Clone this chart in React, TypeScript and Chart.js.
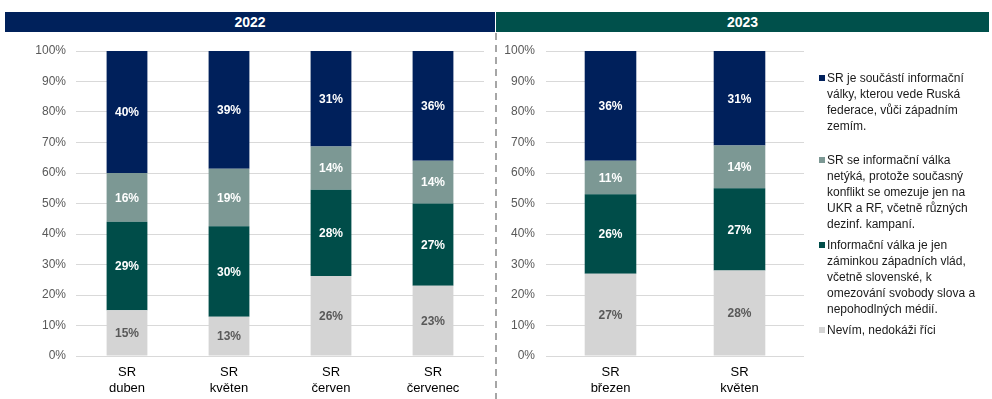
import React, { useEffect, useRef } from "react";
import { Chart, registerables } from "chart.js";

Chart.register(...registerables);

// ---- data ----
const categories2022: string[][] = [["SR", "duben"], ["SR", "květen"], ["SR", "červen"], ["SR", "červenec"]];
const categories2023: string[][] = [["SR", "březen"], ["SR", "květen"]];

const seriesNames = [
  "Nevím, nedokáži říci",
  "Informační válka je jen záminkou západních vlád, včetně slovenské, k omezování svobody slova a nepohodlných médií.",
  "SR se informační válka netýká, protože současný konflikt se omezuje jen na UKR a RF, včetně různých dezinf. kampaní.",
  "SR je součástí informační války, kterou vede Ruská federace, vůči západním zemím.",
];

const nevim2022 = [15, 13, 26, 23];
const zaminka2022 = [29, 30, 28, 27];
const netyka2022 = [16, 19, 14, 14];
const soucasti2022 = [40, 39, 31, 36];

const nevim2023 = [27, 28];
const zaminka2023 = [26, 27];
const netyka2023 = [11, 14];
const soucasti2023 = [36, 31];

const yTicks = [0, 10, 20, 30, 40, 50, 60, 70, 80, 90, 100];

// ---- styles ----
const colors = ["#D4D4D4", "#004D49", "#7C9894", "#00205B"];
const labelColors = ["#595959", "#FFFFFF", "#FFFFFF", "#FFFFFF"];
const FONT = "'Liberation Sans', Arial, sans-serif";

const labelPlugin = {
  id: "segLabels",
  afterDatasetsDraw(chart: any) {
    const ctx = chart.ctx;
    ctx.save();
    ctx.font = `bold 12px ${FONT}`;
    ctx.textAlign = "center";
    ctx.textBaseline = "middle";
    chart.data.datasets.forEach((ds: any, i: number) => {
      const meta = chart.getDatasetMeta(i);
      meta.data.forEach((bar: any, j: number) => {
        const p = bar.getProps(["x", "y", "base"], true);
        ctx.fillStyle = ds.labelColor;
        ctx.fillText(ds.rawValues[j] + "%", p.x, (p.y + p.base) / 2 + 1);
      });
    });
    ctx.restore();
  },
};

function StackChart(props: {
  cats: string[][];
  series: number[][];
  left: number;
  width: number;
  yWidth: number;
  padRight: number;
  tickPad: number;
}) {
  const ref = useRef<HTMLCanvasElement | null>(null);
  useEffect(() => {
    const { cats, series, yWidth, padRight, tickPad } = props;
    const totals = cats.map((_, j) => series.reduce((s, arr) => s + arr[j], 0));
    const chart = new Chart(ref.current as HTMLCanvasElement, {
      type: "bar",
      data: {
        labels: cats,
        datasets: series.map((arr, i) => ({
          label: seriesNames[i],
          data: arr.map((v, j) => (v / totals[j]) * 100),
          rawValues: arr,
          labelColor: labelColors[i],
          backgroundColor: colors[i],
          borderWidth: 0,
          categoryPercentage: 1,
          barPercentage: 0.4,
        })) as any,
      },
      options: {
        animation: false,
        responsive: false,
        devicePixelRatio: 1,
        layout: { padding: { top: 11, right: padRight, left: 0, bottom: 0 } },
        plugins: { legend: { display: false }, tooltip: { enabled: false } },
        scales: {
          x: {
            stacked: true,
            grid: { display: false, drawTicks: false },
            border: { display: false },
            ticks: {
              color: "#000000",
              font: { family: FONT, size: 13, lineHeight: 1.25 },
              padding: 8,
              maxRotation: 0,
              autoSkip: false,
            },
            afterFit(scale: any) {
              scale.height = 43;
              scale.paddingLeft = 0;
              scale.paddingRight = 0;
            },
          },
          y: {
            stacked: true,
            min: 0,
            max: 100,
            afterBuildTicks(scale: any) {
              scale.ticks = yTicks.map((v) => ({ value: v }));
            },
            ticks: {
              color: "#595959",
              font: { family: FONT, size: 12 },
              padding: tickPad,
              callback: (v: any) => v + "%",
            },
            grid: { color: "#D9D9D9", lineWidth: 1, drawTicks: false },
            border: { display: false },
            afterFit(scale: any) {
              scale.width = yWidth;
              scale.paddingTop = 0;
              scale.paddingBottom = 0;
            },
          },
        },
      },
      plugins: [labelPlugin],
    });
    return () => chart.destroy();
  }, []);
  return (
    <canvas
      ref={ref}
      width={props.width}
      height={359}
      style={{ position: "absolute", left: props.left, top: 40, width: props.width, height: 359 }}
    />
  );
}

const legendEntries = [
  { color: colors[3], top: 70, lines: ["SR je součástí informační", "války, kterou vede Ruská", "federace, vůči západním", "zemím."] },
  { color: colors[2], top: 152, lines: ["SR se informační válka", "netýká, protože současný", "konflikt se omezuje jen na", "UKR a RF, včetně různých", "dezinf. kampaní."] },
  { color: colors[1], top: 237, lines: ["Informační válka je jen", "záminkou západních vlád,", "včetně slovenské, k", "omezování svobody slova a", "nepohodlných médií."] },
  { color: colors[0], top: 322, lines: ["Nevím, nedokáži říci"] },
];

export default function App() {
  useEffect(() => {
    document.body.style.margin = "0";
  }, []);
  return (
    <div style={{ position: "fixed", left: 0, top: 0, width: 992, height: 399, background: "#fff", overflow: "hidden", fontFamily: FONT }}>
      <div style={{ position: "absolute", left: 5, top: 12, width: 490, height: 20, background: "#00215B", color: "#fff", fontWeight: "bold", fontSize: 14, lineHeight: "20px", textAlign: "center" }}>2022</div>
      <div style={{ position: "absolute", left: 496, top: 12, width: 493, height: 20, background: "#00504B", color: "#fff", fontWeight: "bold", fontSize: 14, lineHeight: "20px", textAlign: "center" }}>2023</div>
      <StackChart cats={categories2022} series={[nevim2022, zaminka2022, netyka2022, soucasti2022]} left={0} width={490} yWidth={76} padRight={6} tickPad={10} />
      <StackChart cats={categories2023} series={[nevim2023, zaminka2023, netyka2023, soucasti2023]} left={496} width={320} yWidth={50} padRight={12} tickPad={11} />
      <svg style={{ position: "absolute", left: 0, top: 0 }} width={992} height={399}>
        <line x1={496} y1={33} x2={496} y2={399} stroke="#A6A6A6" strokeWidth={2} strokeDasharray="7,5" />
      </svg>
      {legendEntries.map((e, i) => (
        <div key={i} style={{ position: "absolute", left: 818, top: e.top, fontSize: 12, lineHeight: "16px", color: "#1a1a1a" }}>
          <span style={{ position: "absolute", left: 1, top: 5, width: 6, height: 6, background: e.color }} />
          <div style={{ marginLeft: 9, whiteSpace: "nowrap" }}>
            {e.lines.map((l, k) => (
              <div key={k}>{l}</div>
            ))}
          </div>
        </div>
      ))}
    </div>
  );
}
